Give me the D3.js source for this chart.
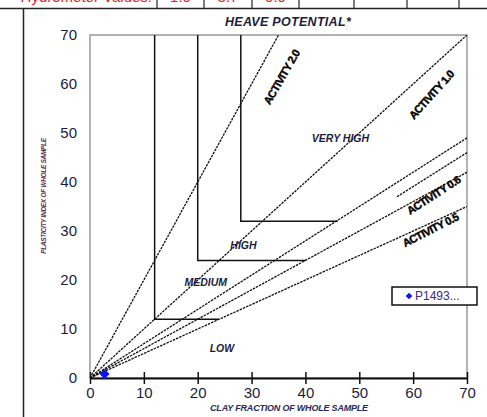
<!DOCTYPE html>
<html>
<head>
<meta charset="utf-8">
<script src="https://cdn.jsdelivr.net/npm/d3@7"></script>
<style>
  body { margin: 0; background: #fff; }
  svg { display: block; font-family: "Liberation Sans", Arial, sans-serif; }
</style>
</head>
<body>
<div class="graph"></div>
<script>
const w = 487;
const h = 417;
const margin = {top: 35, right: 20, bottom: 39, left: 90};

// chart data
const xTicks = [0, 10, 20, 30, 40, 50, 60, 70];
const yTicks = [0, 10, 20, 30, 40, 50, 60, 70];
const activities = [2.0, 1.0, 0.7, 0.6, 0.5];
const shortLine = [[57, 37], [70, 46]];
// heave potential step boundaries: [x, top], [x, y], [xEnd, y]
const boundaries = [
  [[12, 70], [12, 12], [24, 12]],
  [[20, 70], [20, 24], [40, 24]],
  [[28, 70], [28, 32], [46, 32]]
];
const zoneNames = ["LOW", "MEDIUM", "HIGH", "VERY HIGH"];
const zonePos = [[24.5, 6], [21.5, 19.5], [28.5, 27], [46.5, 49]];
const activityLabels = ["ACTIVITY 2.0", "ACTIVITY 1.0", "ACTIVITY 0.6", "ACTIVITY 0.5"];
const activityLabelPos = [[35.6, 61.4], [63.4, 57.8], [63.8, 37.3], [63.2, 30.2]];
const activityLabelAngle = [-60, -48, -33, -27];
const samples = [{name: "P1493...", clay: 2.7, pi: 0.8}];
const headerText = "Hydrometer Values:";
const headerValues = ["1.0", "3.7", "0.0", "", "", "", ""];

const canvas = d3.select('.graph')
  .append("svg")
  .attr("width", w)
  .attr("height", h);

const xScale = d3.scaleLinear().domain([0, 70]).range([margin.left, w - margin.right]);
const yScale = d3.scaleLinear().domain([0, 70]).range([h - margin.bottom, margin.top]);

// header strip
const cellX = [157, 204, 252, 299, 354, 407, 459, 487];
canvas.append("line").attr("x1", 0).attr("x2", w).attr("y1", 8.5).attr("y2", 8.5)
  .attr("stroke", "#222").attr("stroke-width", 1.5);
canvas.append("line").attr("x1", 23.5).attr("x2", 23.5).attr("y1", 8).attr("y2", h)
  .attr("stroke", "#222").attr("stroke-width", 1.5);
cellX.slice(0, -1).forEach(x => {
  canvas.append("line").attr("x1", x).attr("x2", x).attr("y1", 0).attr("y2", 8)
    .attr("stroke", "#222").attr("stroke-width", 1.2);
});
canvas.append("text").attr("x", 152).attr("y", 2)
  .attr("text-anchor", "end").attr("fill", "#e8202a")
  .style("font-size", "15px").text(headerText);
headerValues.forEach((v, i) => {
  canvas.append("text").attr("x", (cellX[i] + cellX[i + 1]) / 2).attr("y", 2)
    .attr("text-anchor", "middle").attr("fill", "#e8202a")
    .style("font-size", "15px").text(v);
});

// frame
canvas.append("rect")
  .attr("x", xScale(0)).attr("y", yScale(70))
  .attr("width", xScale(70) - xScale(0)).attr("height", yScale(0) - yScale(70))
  .attr("fill", "none").attr("stroke", "#999").attr("stroke-width", 1.5);

// activity lines through origin
canvas.append("clipPath").attr("id", "plot-clip")
  .append("rect")
  .attr("x", xScale(0)).attr("y", yScale(70))
  .attr("width", xScale(70) - xScale(0)).attr("height", yScale(0) - yScale(70));

canvas.append("g").attr("clip-path", "url(#plot-clip)")
  .selectAll("line.activity")
  .data(activities)
  .enter().append("line")
  .attr("class", "activity")
  .attr("x1", xScale(0)).attr("y1", yScale(0))
  .attr("x2", d => xScale(Math.min(70, 70 / d)))
  .attr("y2", d => yScale(Math.min(70, 70 * d)))
  .attr("stroke", "#111").attr("stroke-width", 1.3)
  .attr("stroke-dasharray", "2.5,1");

canvas.append("line")
  .attr("x1", xScale(shortLine[0][0])).attr("y1", yScale(shortLine[0][1]))
  .attr("x2", xScale(shortLine[1][0])).attr("y2", yScale(shortLine[1][1]))
  .attr("stroke", "#111").attr("stroke-width", 1.3)
  .attr("stroke-dasharray", "2.5,1");

// heave potential boundaries
const line = d3.line().x(d => xScale(d[0])).y(d => yScale(d[1]));
canvas.selectAll("path.boundary")
  .data(boundaries)
  .enter().append("path")
  .attr("class", "boundary")
  .attr("d", line)
  .attr("fill", "none").attr("stroke", "#111").attr("stroke-width", 1.5);

// zone labels
canvas.selectAll("text.zone")
  .data(zoneNames)
  .enter().append("text")
  .attr("class", "zone")
  .attr("x", (d, i) => xScale(zonePos[i][0]))
  .attr("y", (d, i) => yScale(zonePos[i][1]))
  .attr("text-anchor", "middle")
  .attr("dy", ".35em")
  .attr("fill", "#1c1c3c")
  .style("font-size", "10.5px").style("font-weight", "bold").style("font-style", "italic")
  .text(d => d);

canvas.append("text")
  .attr("x", 288).attr("y", 26)
  .attr("text-anchor", "middle")
  .attr("fill", "#1c1c3c")
  .style("font-size", "12.5px").style("font-weight", "bold").style("font-style", "italic")
  .style("letter-spacing", "0.3px")
  .text("HEAVE POTENTIAL*");

// activity labels
canvas.selectAll("text.act")
  .data(activityLabels)
  .enter().append("text")
  .attr("class", "act")
  .attr("transform", (d, i) => `translate(${xScale(activityLabelPos[i][0])},${yScale(activityLabelPos[i][1])}) rotate(${activityLabelAngle[i]})`)
  .attr("text-anchor", "middle")
  .attr("dy", ".35em")
  .attr("fill", "#000")
  .attr("stroke", "#000").attr("stroke-width", 0.4)
  .style("font-size", "11px").style("font-weight", "bold")
  .style("letter-spacing", "-0.6px")
  .text(d => d);

// x axis
const xAxis = d3.axisBottom(xScale).tickValues(xTicks).tickSize(6).tickSizeOuter(0);
const gx = canvas.append("g")
  .attr("id", "x-axis")
  .attr("transform", `translate(0, ${yScale(0)})`)
  .call(xAxis);
gx.select(".domain").attr("stroke", "#111").attr("stroke-width", 2);
gx.selectAll(".tick line").attr("y1", -6).attr("stroke", "#111").attr("stroke-width", 1.5);
gx.selectAll(".tick text")
  .attr("fill", "#1c1c3c").attr("y", 9)
  .style("font-size", "15px").style("font-family", "Liberation Sans, Arial, sans-serif");

canvas.append("text")
  .attr("x", 289).attr("y", 411)
  .attr("text-anchor", "middle")
  .attr("fill", "#2a2a5a")
  .style("font-size", "9px").style("font-weight", "bold").style("font-style", "italic")
  .style("letter-spacing", "-0.2px")
  .text("CLAY FRACTION OF WHOLE SAMPLE");

// y axis labels
canvas.selectAll("text.ytick")
  .data(yTicks)
  .enter().append("text")
  .attr("class", "ytick")
  .attr("x", 77)
  .attr("y", d => yScale(d))
  .attr("dy", ".35em")
  .attr("text-anchor", "end")
  .attr("fill", "#1c1c3c")
  .style("font-size", "15px")
  .text(d => d);

canvas.append("text")
  .attr("transform", `translate(44, 196) rotate(-90)`)
  .attr("text-anchor", "middle")
  .attr("dy", ".35em")
  .attr("fill", "#5a3050")
  .style("font-size", "6.5px").style("font-weight", "bold").style("font-style", "italic")
  .style("letter-spacing", "-0.3px")
  .text("PLASTICITY INDEX OF WHOLE SAMPLE");

// sample points (square turned 45deg = even diamond)
const diamond = d3.symbol().type(d3.symbolSquare).size(50);
canvas.selectAll("path.dot")
  .data(samples)
  .enter().append("path")
  .attr("class", "dot")
  .attr("d", diamond)
  .attr("transform", d => `translate(${xScale(d.clay)},${yScale(d.pi)}) rotate(45)`)
  .attr("fill", "#1010ff");

// legend
const legend = canvas.append("g").attr("transform", "translate(392, 287)");
legend.append("rect")
  .attr("width", 85).attr("height", 18)
  .attr("fill", "#fff").attr("stroke", "#111").attr("stroke-width", 1.5);
legend.append("path")
  .attr("d", d3.symbol().type(d3.symbolSquare).size(22))
  .attr("transform", "translate(17, 9) rotate(45)")
  .attr("fill", "#1010ff");
legend.append("text")
  .attr("x", 23).attr("y", 9).attr("dy", ".35em")
  .attr("fill", "#3a2a80")
  .style("font-size", "12px")
  .text(samples[0].name);
</script>
</body>
</html>
